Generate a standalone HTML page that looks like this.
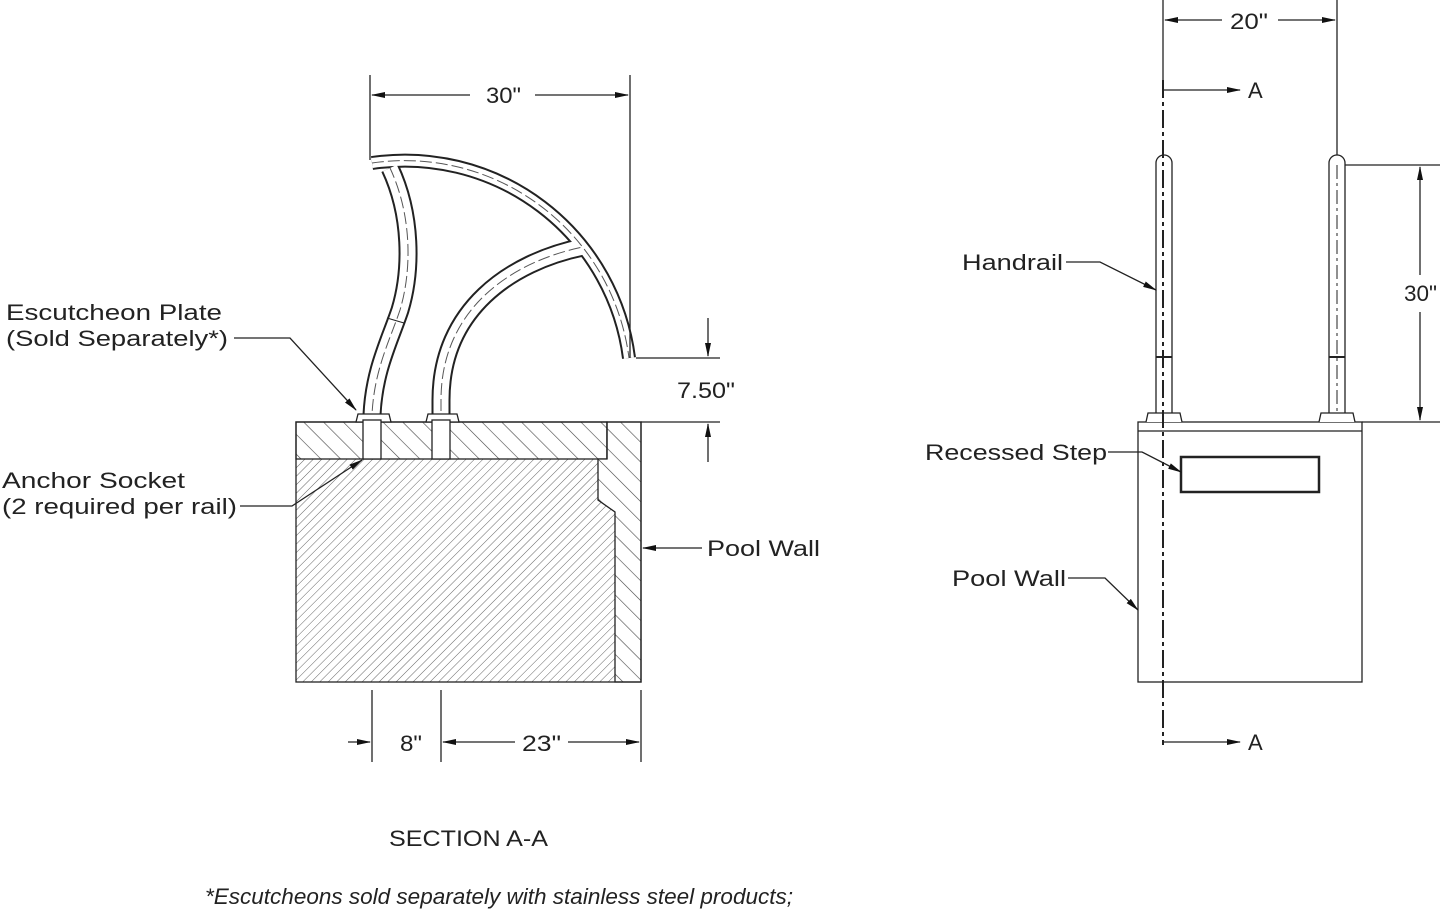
<!DOCTYPE html>
<html><head><style>
html,body{margin:0;padding:0;background:#fff;}
svg{display:block;}
text{font-family:"Liberation Sans",sans-serif;fill:#222;font-size:22px;}
</style></head><body>
<svg width="1445" height="913" viewBox="0 0 1445 913" xmlns="http://www.w3.org/2000/svg">
<defs>
<pattern id="wide" patternUnits="userSpaceOnUse" width="14" height="14" patternTransform="rotate(-45)">
<rect width="14" height="14" fill="#fff"/><line x1="0" y1="0" x2="0" y2="14" stroke="#444" stroke-width="1.2"/></pattern>
<pattern id="fine" patternUnits="userSpaceOnUse" width="6" height="6" patternTransform="rotate(45)">
<rect width="6" height="6" fill="#fff"/><line x1="0" y1="0" x2="0" y2="6" stroke="#666" stroke-width="1"/></pattern>
<marker id="ar" markerWidth="14" markerHeight="8" refX="13" refY="4" orient="auto" markerUnits="userSpaceOnUse">
<path d="M0,1 L14,4 L0,7 Z" fill="#111"/></marker>
</defs>
<g stroke="#222" stroke-width="1.3" fill="none">
<!-- left block -->
<rect x="296" y="459" width="319" height="223" fill="url(#fine)" stroke="none"/>
<rect x="296" y="422" width="311" height="37" fill="url(#wide)"/>
<path d="M607,422 L641,422 L641,682 L615,682 L615,512 L598,500 L598,459 L607,459 Z" fill="url(#wide)"/>
<line x1="607" y1="422" x2="607" y2="459"/>
<rect x="296" y="422" width="345" height="260"/>
<line x1="641" y1="422" x2="720" y2="422"/>
<!-- rails -->
<g stroke-linecap="butt">
<path id="r1" d="M372,459 L372,415 C374,370 390,340 400,310 C412,270 412,215 390,168"/>
<path id="r2" d="M441,459 L441,400 C441,310 510,262 583,247"/>
<path id="r3" d="M372,163 A226,226 0 0 1 629,358"/>
</g>
<use href="#r1" stroke="#222" stroke-width="19"/><use href="#r2" stroke="#222" stroke-width="19"/><use href="#r3" stroke="#222" stroke-width="14"/>
<use href="#r1" stroke="#fff" stroke-width="15"/><use href="#r2" stroke="#fff" stroke-width="15"/><use href="#r3" stroke="#fff" stroke-width="10"/>
<use href="#r1" stroke="#555" stroke-width="1" stroke-dasharray="12,4"/><use href="#r2" stroke="#555" stroke-width="1" stroke-dasharray="12,4"/><use href="#r3" stroke="#555" stroke-width="1" stroke-dasharray="12,4"/>
<line x1="387" y1="318" x2="404" y2="323" stroke-width="1"/>
<path d="M356,422 L358,414 L389,414 L391,422 Z" fill="#fff"/>
<path d="M426,422 L428,414 L457,414 L459,422 Z" fill="#fff"/>
<rect x="363" y="420" width="18" height="39" fill="#fff"/>
<rect x="432" y="420" width="18" height="39" fill="#fff"/>
<!-- dims left -->
<line x1="370" y1="75" x2="370" y2="160"/><line x1="630" y1="75" x2="630" y2="358"/>
<line x1="470" y1="95" x2="372" y2="95" marker-end="url(#ar)"/>
<line x1="535" y1="95" x2="628" y2="95" marker-end="url(#ar)"/>
<line x1="636" y1="358" x2="720" y2="358"/>
<line x1="708" y1="318" x2="708" y2="356" marker-end="url(#ar)"/>
<line x1="708" y1="462" x2="708" y2="424" marker-end="url(#ar)"/>
<line x1="372" y1="690" x2="372" y2="762"/><line x1="441" y1="690" x2="441" y2="762"/><line x1="641" y1="690" x2="641" y2="762"/>
<line x1="348" y1="742" x2="370" y2="742" marker-end="url(#ar)"/>
<line x1="515" y1="742" x2="443" y2="742" marker-end="url(#ar)"/>
<line x1="568" y1="742" x2="639" y2="742" marker-end="url(#ar)"/>
<!-- leaders left -->
<polyline points="234,338 290,338 356,410" marker-end="url(#ar)"/>
<polyline points="240,506 292,506 362,460" marker-end="url(#ar)"/>
<line x1="702" y1="548" x2="643" y2="548" marker-end="url(#ar)"/>
<!-- right view -->
<rect x="1138" y="422" width="224" height="260"/>
<line x1="1138" y1="431" x2="1362" y2="431"/>
<rect x="1181" y="457" width="138" height="35" stroke-width="2.5"/>
<path d="M1156,413 L1156,163 A8,8 0 0 1 1172,163 L1172,413" fill="#fff"/>
<path d="M1329,413 L1329,163 A8,8 0 0 1 1345,163 L1345,413" fill="#fff"/>
<line x1="1156" y1="357" x2="1172" y2="357" stroke-width="2"/><line x1="1329" y1="357" x2="1345" y2="357" stroke-width="2"/>
<path d="M1146,422 L1148,413 L1180,413 L1182,422" fill="#fff"/>
<path d="M1319,422 L1321,413 L1353,413 L1355,422" fill="#fff"/>
<line x1="1337" y1="165" x2="1337" y2="413" stroke-dasharray="14,4,3,4" stroke-width="1"/>
<line x1="1163" y1="80" x2="1163" y2="745" stroke-dasharray="18,4,4,4" stroke-width="2"/>
<line x1="1163" y1="90" x2="1240" y2="90" marker-end="url(#ar)"/>
<line x1="1163" y1="742" x2="1240" y2="742" marker-end="url(#ar)"/>
<line x1="1163" y1="0" x2="1163" y2="80"/><line x1="1337" y1="0" x2="1337" y2="155"/>
<line x1="1222" y1="20" x2="1165" y2="20" marker-end="url(#ar)"/>
<line x1="1278" y1="20" x2="1335" y2="20" marker-end="url(#ar)"/>
<line x1="1345" y1="165" x2="1440" y2="165"/><line x1="1362" y1="422" x2="1440" y2="422"/>
<line x1="1420" y1="275" x2="1420" y2="167" marker-end="url(#ar)"/>
<line x1="1420" y1="312" x2="1420" y2="420" marker-end="url(#ar)"/>
<polyline points="1066,262 1100,262 1156,290" marker-end="url(#ar)"/>
<polyline points="1108,452 1142,452 1181,472" marker-end="url(#ar)"/>
<polyline points="1068,578 1105,578 1138,610" marker-end="url(#ar)"/>
</g>
<g>
<text x="486" y="103" textLength="35" lengthAdjust="spacingAndGlyphs">30"</text>
<text x="677" y="398" textLength="58" lengthAdjust="spacingAndGlyphs">7.50"</text>
<text x="400" y="751" textLength="22" lengthAdjust="spacingAndGlyphs">8"</text>
<text x="522" y="751" textLength="39" lengthAdjust="spacingAndGlyphs">23"</text>
<text x="6" y="320" textLength="216" lengthAdjust="spacingAndGlyphs">Escutcheon Plate</text>
<text x="6" y="346" textLength="222" lengthAdjust="spacingAndGlyphs">(Sold Separately*)</text>
<text x="2" y="488" textLength="183" lengthAdjust="spacingAndGlyphs">Anchor Socket</text>
<text x="2" y="514" textLength="235" lengthAdjust="spacingAndGlyphs">(2 required per rail)</text>
<text x="707" y="556" textLength="113" lengthAdjust="spacingAndGlyphs">Pool Wall</text>
<text x="389" y="846" textLength="159" lengthAdjust="spacingAndGlyphs">SECTION A-A</text>
<text x="205" y="904" font-style="italic" textLength="588" lengthAdjust="spacingAndGlyphs">*Escutcheons sold separately with stainless steel products;</text>
<text x="1230" y="29" textLength="38" lengthAdjust="spacingAndGlyphs">20"</text>
<text x="1404" y="301" textLength="33" lengthAdjust="spacingAndGlyphs">30"</text>
<text x="1248" y="98">A</text>
<text x="1248" y="750">A</text>
<text x="962" y="270" textLength="101" lengthAdjust="spacingAndGlyphs">Handrail</text>
<text x="925" y="460" textLength="182" lengthAdjust="spacingAndGlyphs">Recessed Step</text>
<text x="952" y="586" textLength="114" lengthAdjust="spacingAndGlyphs">Pool Wall</text>
</g>
</svg>
</body></html>
